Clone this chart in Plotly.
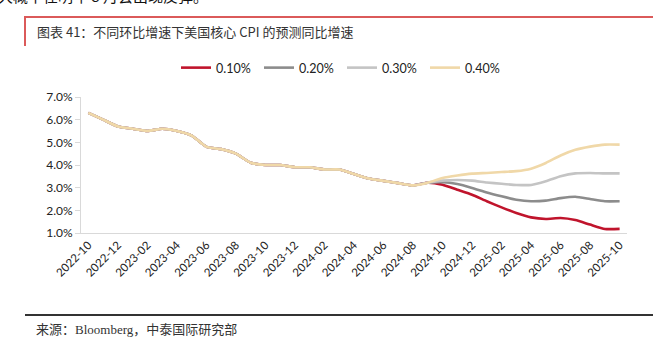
import plotly.graph_objects as go

months = ["2022-10","2022-11","2022-12","2023-01","2023-02","2023-03","2023-04","2023-05","2023-06",
          "2023-07","2023-08","2023-09","2023-10","2023-11","2023-12","2024-01","2024-02","2024-03",
          "2024-04","2024-05","2024-06","2024-07","2024-08","2024-09","2024-10","2024-11","2024-12",
          "2025-01","2025-02","2025-03","2025-04","2025-05","2025-06","2025-07","2025-08","2025-09","2025-10"]

history = [6.3, 6.0, 5.7, 5.6, 5.5, 5.6, 5.5, 5.3, 4.8, 4.7, 4.5, 4.1, 4.0, 4.0, 3.9, 3.9, 3.8, 3.8,
           3.6, 3.4, 3.3, 3.2, 3.1, 3.22]

fc_010 = [3.13, 2.91, 2.69, 2.40, 2.13, 1.88, 1.69, 1.62, 1.66, 1.57, 1.37, 1.18, 1.18]
fc_020 = [3.24, 3.16, 2.99, 2.79, 2.62, 2.47, 2.40, 2.43, 2.54, 2.60, 2.50, 2.40, 2.40]
fc_030 = [3.31, 3.34, 3.31, 3.23, 3.17, 3.12, 3.12, 3.28, 3.50, 3.63, 3.65, 3.63, 3.63]
fc_040 = [3.43, 3.54, 3.62, 3.65, 3.69, 3.73, 3.84, 4.09, 4.42, 4.67, 4.81, 4.90, 4.90]

series_names = ["0.10%", "0.20%", "0.30%", "0.40%"]
series_colors = ["#C0142C", "#8C8C8C", "#C4C4C4", "#F0D8A8"]
forecasts = [fc_010, fc_020, fc_030, fc_040]

tick_idx = list(range(0, len(months), 2))
tick_text = [months[i] for i in tick_idx]
y_ticks = [1, 2, 3, 4, 5, 6, 7]
y_tick_text = ["%.1f%%" % v for v in y_ticks]

title_text = "图表 41：不同环比增速下美国核心 CPI 的预测同比增速"
source_text = "来源：Bloomberg，中泰国际研究部"
top_text = "大概率在明年 8 月会出现反弹。"

W, H = 669, 347
ML, MR, MT, MB = 81, 42, 97, 114
PW, PH = W - ML - MR, H - MT - MB

def px(x):
    return (x - ML) / PW

def py(y):
    return (H - MB - y) / PH

fig = go.Figure()
x_all = list(range(len(months)))
for name, color, fc in zip(series_names, series_colors, forecasts):
    vals = history + fc
    fig.add_trace(go.Scatter(
        x=x_all, y=vals, mode="lines", name=name,
        line=dict(color=color, width=2.6, shape="spline", smoothing=0.5),
        hoverinfo="skip",
    ))

fig.update_layout(
    width=W, height=H,
    margin=dict(l=ML, r=MR, t=MT, b=MB, pad=0),
    paper_bgcolor="white", plot_bgcolor="white",
    font=dict(family="Lato, 'Noto Sans CJK SC', sans-serif", size=12, color="#222"),
    showlegend=True,
    legend=dict(orientation="h", x=px(342), y=py(68), xanchor="center", yanchor="middle",
                font=dict(size=12.5, color="#222"), entrywidth=38, tracegroupgap=0,
                bgcolor="rgba(0,0,0,0)"),
    xaxis=dict(range=[-0.5, len(months) - 0.5], tickmode="array", tickvals=tick_idx,
               ticktext=tick_text, tickangle=-45, showgrid=False, zeroline=False,
               showline=True, linecolor="#D9D9D9", linewidth=1, ticks="",
               tickfont=dict(size=11.5, color="#222"), fixedrange=True),
    yaxis=dict(range=[1, 7], tickmode="array", tickvals=y_ticks, ticktext=y_tick_text,
               showgrid=False, zeroline=False, showline=True, linecolor="#D9D9D9", linewidth=1,
               ticks="outside", ticklen=5, tickcolor="#D9D9D9",
               tickfont=dict(size=12, color="#222"), fixedrange=True),
)

shapes = [
    dict(type="line", xref="paper", yref="paper", x0=px(25), x1=px(653), y0=py(17), y1=py(17),
         line=dict(color="#DB5A5A", width=2)),
    dict(type="line", xref="paper", yref="paper", x0=px(25), x1=px(25), y0=py(16), y1=py(46),
         line=dict(color="#DB5A5A", width=2)),
    dict(type="line", xref="paper", yref="paper", x0=px(25), x1=px(653), y0=py(315), y1=py(315),
         line=dict(color="#333333", width=2)),
]
fig.update_layout(shapes=shapes)

fig.add_annotation(text=title_text, xref="paper", yref="paper", x=px(35), y=py(31),
                   xanchor="left", yanchor="middle", showarrow=False,
                   font=dict(family="'Noto Sans CJK SC', sans-serif", size=13, color="#333"))
fig.add_annotation(text=source_text, xref="paper", yref="paper", x=px(34), y=py(329),
                   xanchor="left", yanchor="middle", showarrow=False,
                   font=dict(family="'Liberation Serif', 'Noto Sans CJK SC', serif", size=13, color="#333"))
fig.add_annotation(text=top_text, xref="paper", yref="paper", x=px(-4), y=py(8),
                   xanchor="left", yanchor="bottom", showarrow=False,
                   font=dict(family="'Noto Sans CJK SC', sans-serif", size=15, color="#111"))

fig.write_html("out.html", config={"displayModeBar": False})
